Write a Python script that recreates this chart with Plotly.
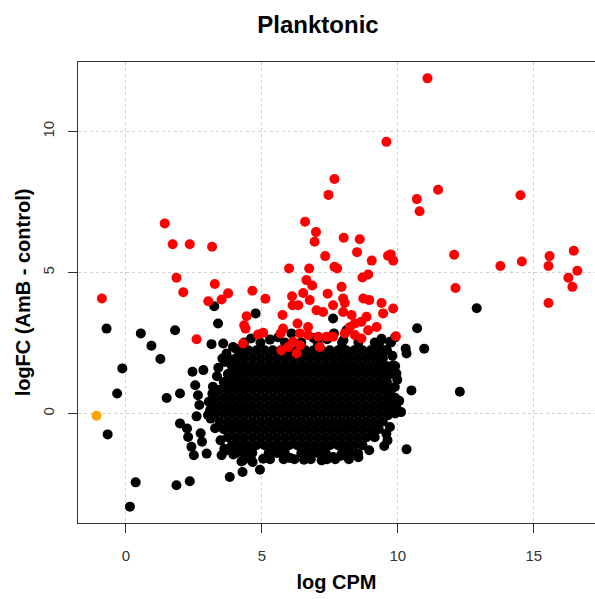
import plotly.graph_objects as go

# ---------------- data ----------------
# dense core of non-DE genes, typed row by row (logFC row value, logCPM values)
blob_row_y = [2.52, 2.24, 1.96, 1.68, 1.40, 1.12, 0.84, 0.56, 0.28, 0.00,
              -0.28, -0.56, -0.84, -1.12, -1.40, -1.62]
blob_row_x = [
    [4.35, 4.95, 5.85, 6.45, 7.05, 7.95, 8.55, 9.15, 9.75],
    [4.2, 4.5, 4.8, 5.1, 5.4, 5.7, 6.0, 6.3, 6.6, 6.9, 7.2, 7.5, 7.8, 8.1, 8.4, 8.7, 9.0, 9.3, 9.6],
    [3.75, 4.05, 4.35, 4.65, 4.95, 5.25, 5.55, 5.85, 6.15, 6.45, 6.75, 7.05, 7.35, 7.65, 7.95, 8.25, 8.55, 8.85, 9.15, 9.45],
    [3.9, 4.2, 4.5, 4.8, 5.1, 5.4, 5.7, 6.0, 6.3, 6.6, 6.9, 7.2, 7.5, 7.8, 8.1, 8.4, 8.7, 9.0, 9.3, 9.6, 9.9],
    [3.75, 4.05, 4.35, 4.65, 4.95, 5.25, 5.55, 5.85, 6.15, 6.45, 6.75, 7.05, 7.35, 7.65, 7.95, 8.25, 8.55, 8.85, 9.15, 9.45, 9.75],
    [3.6, 3.9, 4.2, 4.5, 4.8, 5.1, 5.4, 5.7, 6.0, 6.3, 6.6, 6.9, 7.2, 7.5, 7.8, 8.1, 8.4, 8.7, 9.0, 9.3, 9.6],
    [3.45, 3.75, 4.05, 4.35, 4.65, 4.95, 5.25, 5.55, 5.85, 6.15, 6.45, 6.75, 7.05, 7.35, 7.65, 7.95, 8.25, 8.55, 8.85, 9.15, 9.45, 9.75],
    [3.3, 3.6, 3.9, 4.2, 4.5, 4.8, 5.1, 5.4, 5.7, 6.0, 6.3, 6.6, 6.9, 7.2, 7.5, 7.8, 8.1, 8.4, 8.7, 9.0, 9.3, 9.6, 9.9],
    [3.45, 3.75, 4.05, 4.35, 4.65, 4.95, 5.25, 5.55, 5.85, 6.15, 6.45, 6.75, 7.05, 7.35, 7.65, 7.95, 8.25, 8.55, 8.85, 9.15, 9.45, 9.75],
    [3.3, 3.6, 3.9, 4.2, 4.5, 4.8, 5.1, 5.4, 5.7, 6.0, 6.3, 6.6, 6.9, 7.2, 7.5, 7.8, 8.1, 8.4, 8.7, 9.0, 9.3, 9.6, 9.9],
    [3.45, 3.75, 4.05, 4.35, 4.65, 4.95, 5.25, 5.55, 5.85, 6.15, 6.45, 6.75, 7.05, 7.35, 7.65, 7.95, 8.25, 8.55, 8.85, 9.15, 9.45],
    [3.6, 3.9, 4.2, 4.5, 4.8, 5.1, 5.4, 5.7, 6.0, 6.3, 6.6, 6.9, 7.2, 7.5, 7.8, 8.1, 8.4, 8.7, 9.0, 9.3],
    [3.75, 4.05, 4.35, 4.65, 4.95, 5.25, 5.55, 5.85, 6.15, 6.45, 6.75, 7.05, 7.35, 7.65, 7.95, 8.25, 8.55, 8.85, 9.15],
    [3.9, 4.2, 4.5, 4.8, 5.1, 5.4, 5.7, 6.0, 6.3, 6.6, 6.9, 7.2, 7.5, 7.8, 8.1, 8.4, 8.7],
    [4.05, 4.35, 4.65, 5.25, 5.55, 5.85, 6.45, 6.75, 7.05, 7.35, 7.95, 8.25],
    [4.6, 5.3, 5.8, 6.2, 6.8, 7.4, 7.7, 8.2],
]

# scattered non-DE genes outside the core (ragged edges and outliers)
black_x = [-0.71, 0.55, 0.94, 1.27, 1.81, -0.13, -0.32, -0.67, 0.36, 0.15, 1.86, 2.35,
           3.25, 3.39, 4.77, 3.15, 6.09, 3.82, 4.29, 4.93, 4.66, 4.31,
           1.50, 1.99, 1.99, 2.25, 2.29, 2.41, 2.50, 2.97, 3.52, 2.45, 2.85,
           3.58, 3.70, 3.64, 3.94, 4.19, 2.55, 2.70, 2.60, 2.75, 2.80, 2.65,
           12.90, 10.71, 10.97, 10.29, 10.32, 10.50, 12.28, 10.32, 9.95,
           9.90, 9.71, 9.34, 9.22, 9.52, 9.83, 9.95, 9.89, 9.77, 9.64, 9.71, 9.09,
           8.54, 7.99, 7.62, 7.62, 7.65, 8.11,
           3.05, 3.12, 3.20, 3.28, 3.35, 3.10, 3.18, 3.02, 3.40, 3.55, 3.48, 3.30,
           3.62, 3.85, 4.05, 3.95,
           4.60, 5.30, 6.90, 8.00, 9.40, 5.60, 7.40,
           10.05, 10.12, 9.98, 9.62, 9.50, 9.38, 9.80, 9.58,
           3.70, 4.45, 5.05, 6.05, 7.20, 7.90, 8.55, 8.95, 4.25, 6.55]
black_y = [3.01, 2.84, 2.40, 1.93, 2.95, 1.60, 0.71, -0.74, -2.44, -3.30, -2.54, -2.40,
           3.80, 3.19, 3.55, 2.46, 2.84, -2.25, -2.07, -1.99, -1.72, -1.66,
           0.55, 0.71, -0.35, -0.53, -0.83, -1.18, -1.48, -1.42, -1.48, 1.48, 1.54,
           2.48, 2.13, 1.83, 2.36, 2.18, 1.00, 0.30, -0.10, -0.70, -1.00, 0.65,
           3.73, 3.02, 2.30, 2.30, 2.13, 0.82, 0.77, -1.27, 0.20,
           2.70, 2.54, 2.54, 2.24, 2.24, 1.71, 1.42, 0.94, 0.59, -0.06, -0.48, -0.77,
           -1.42, -1.36, -1.54, 3.37, 2.84, 2.95,
           0.42, -0.18, 0.95, -0.52, 1.32, 0.12, 0.70, -0.05, 1.62, 1.95, -0.95, 0.30,
           -1.25, 1.90, 2.30, -1.45,
           2.66, 2.62, 2.68, 2.60, 2.65, 2.70, 2.63,
           0.45, 0.05, 1.20, -0.95, -1.15, 1.90, 2.05, -0.72,
           -1.30, -1.52, -1.60, -1.58, -1.66, -1.50, -1.55, -1.30, -1.70, -1.64]

# differentially expressed genes
de_x = [1.43, 1.72, 2.35, 3.17, 1.86, 2.11, 3.27, 3.76, 3.52, 3.03, 4.65, 5.13, -0.88,
        6.00, 6.74, 6.59, 6.99, 6.94, 7.33, 7.45, 6.64, 6.85, 6.52, 6.11, 7.42, 6.76,
        11.09, 9.58, 7.67, 10.70, 10.80, 11.48, 14.51, 8.01, 8.60, 8.50, 9.04, 9.64,
        9.74, 9.83, 7.67, 7.77, 8.70, 8.91, 7.93, 12.07, 12.12, 13.77, 14.56, 15.58,
        15.54, 16.47, 16.60, 16.27, 16.42, 15.54,
        7.62, 7.99, 8.05, 8.73, 8.95, 9.40, 9.83, 9.46, 7.99, 8.30, 8.85, 8.66, 8.42,
        8.24, 9.22, 8.91, 8.05, 8.42, 8.66, 7.62, 9.93,
        2.60, 4.31, 4.44, 4.35, 4.40, 4.86, 5.05, 5.76, 5.78, 5.69, 6.34, 6.13, 7.01,
        7.25, 6.31, 6.70, 6.40, 6.70, 7.07, 6.15, 5.97, 5.72, 6.40, 6.28, 7.13, 7.38]
de_y = [6.74, 6.00, 6.00, 5.91, 4.81, 4.30, 4.59, 4.26, 4.04, 3.98, 4.35, 4.07, 4.08,
        5.14, 5.14, 6.80, 6.43, 6.09, 5.58, 7.75, 4.73, 4.54, 4.27, 4.16, 4.25, 4.02,
        11.88, 9.63, 8.31, 7.60, 7.17, 7.93, 7.74, 6.23, 6.18, 5.72, 5.42, 5.59,
        5.64, 5.42, 5.20, 5.14, 4.82, 4.93, 4.49, 5.63, 4.45, 5.23, 5.39, 5.58,
        5.23, 5.77, 5.06, 4.81, 4.49, 3.92,
        3.84, 4.08, 3.92, 4.08, 4.02, 3.92, 3.72, 3.55, 3.60, 3.49, 3.43, 3.25, 3.19,
        3.07, 3.07, 2.95, 2.84, 2.78, 2.66, 2.72, 2.74,
        2.63, 2.48, 3.45, 3.13, 3.01, 2.80, 2.86, 3.49, 3.01, 2.84, 3.84, 3.84, 3.66,
        3.60, 3.19, 3.07, 2.84, 2.78, 2.72, 2.54, 2.36, 2.24, 2.42, 2.13, 2.36, 2.72]

# gene with zero counts in one group
low_x = [-1.08]
low_y = [-0.08]

x_ticks = [0, 5, 10, 15]
y_ticks = [0, 5, 10]

# ---------------- figure ----------------
core_x, core_y = [], []
for yv, xs in zip(blob_row_y, blob_row_x):
    for xv in xs:
        core_x.append(xv)
        core_y.append(yv)

FONT = "Liberation Sans, Arial, sans-serif"
msize = 10

fig = go.Figure()
fig.add_trace(go.Scatter(x=core_x + black_x, y=core_y + black_y, mode="markers",
                         marker=dict(color="black", size=msize, line=dict(width=0)),
                         hoverinfo="skip", showlegend=False))
fig.add_trace(go.Scatter(x=de_x, y=de_y, mode="markers",
                         marker=dict(color="#ff0000", size=msize, line=dict(width=0)),
                         showlegend=False))
fig.add_trace(go.Scatter(x=low_x, y=low_y, mode="markers",
                         marker=dict(color="#ffa500", size=msize, line=dict(width=0)),
                         showlegend=False))

axis_common = dict(
    showline=True, linecolor="#333333", linewidth=1.3,
    ticks="outside", ticklen=9, tickwidth=1.3, tickcolor="#333333",
    showgrid=True, gridcolor="#d0d0d0", griddash="dot", gridwidth=1,
    zeroline=False,
    tickfont=dict(family=FONT, size=15, color="#333333"),
)

fig.update_layout(
    width=595, height=599,
    margin=dict(l=78, r=0, t=62, b=76),
    plot_bgcolor="white", paper_bgcolor="white",
    title=dict(text="<b>Planktonic</b>", font=dict(family=FONT, size=24, color="black"),
               x=318 / 595, xref="container", xanchor="center",
               y=1 - 25 / 599, yref="container", yanchor="middle"),
    xaxis=dict(range=[-1.76, 17.25], tickvals=x_ticks, mirror=True,
               ticklabelstandoff=10,
               title=dict(text="<b>log CPM</b>", font=dict(family=FONT, size=20, color="black"),
                          standoff=11),
               **axis_common),
    yaxis=dict(range=[-3.88, 12.46], tickvals=y_ticks, mirror=False, tickangle=-90,
               ticklabelstandoff=8,
               title=dict(text="<b>logFC (AmB - control)</b>", font=dict(family=FONT, size=20, color="black"),
                          standoff=3),
               **axis_common),
)

fig.write_html("out.html")
